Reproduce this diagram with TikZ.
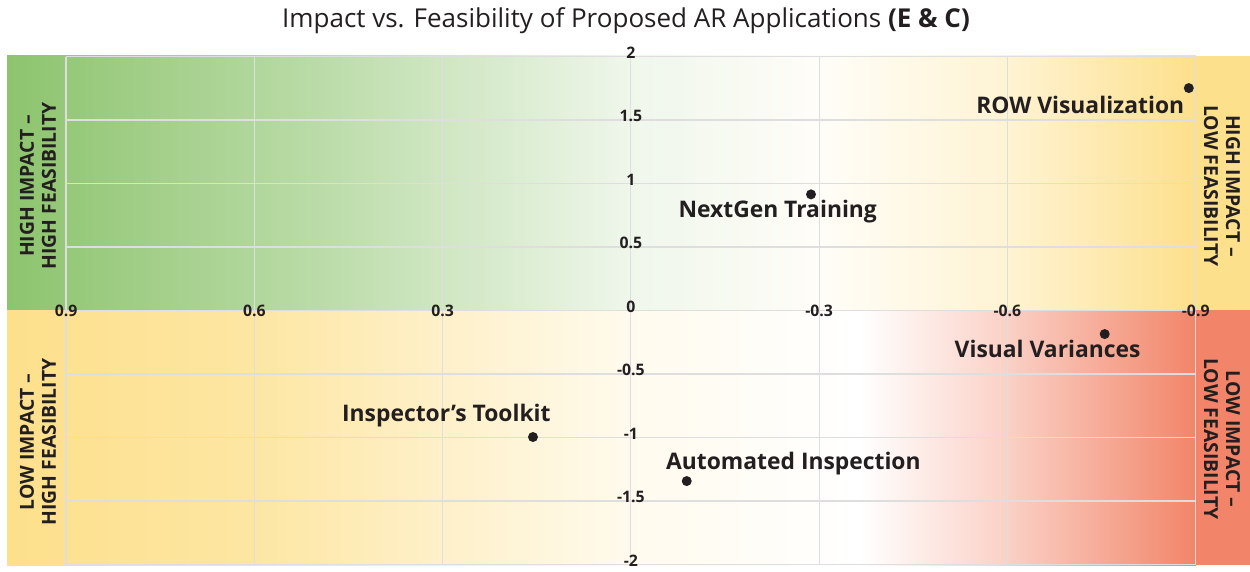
\documentclass[tikz,border=0pt]{standalone}
\usepackage{fontspec}
\setmainfont{Open Sans}
\usepackage{tikz}
\usetikzlibrary{positioning}
\definecolor{quadgreen}{RGB}{141,196,110}
\definecolor{quadyellow}{RGB}{253,224,140}
\definecolor{quadred}{RGB}{242,133,105}
\definecolor{textgray}{RGB}{35,31,32}
\definecolor{gridgray}{RGB}{222,222,222}
\tikzstyle{title_text} = [
    font=\fontsize{14.8}{18}\selectfont,
    text=textgray,
    inner sep=0pt
]
\tikzstyle{tick_label} = [
    font=\fontsize{9}{10}\selectfont\bfseries,
    text=textgray,
    inner sep=0pt
]
\tikzstyle{quad_label} = [
    font=\fontsize{11}{12.5}\selectfont\bfseries,
    text=textgray,
    align=center,
    inner sep=0pt
]
\tikzstyle{app_label} = [
    font=\fontsize{13}{15}\selectfont\bfseries,
    text=textgray,
    inner sep=0pt,
    anchor=base
]
\tikzstyle{dot} = [
    circle,
    fill=textgray,
    inner sep=0pt,
    minimum size=0.2cm
]
\tikzstyle{grid_line} = [
    draw=gridgray,
    line width=0.7pt
]

\begin{document}
\begin{tikzpicture}[x=0.02cm, y=0.02cm]
\useasboundingbox (0,0) rectangle (1250,571);

% top half, green to yellow
\shade[left color=quadgreen, right color=quadgreen!60!white] (7,260.5) rectangle (320,515);
\shade[left color=quadgreen!60!white, right color=quadgreen!14!white] (319.5,260.5) rectangle (631,515);
\shade[left color=quadgreen!14!white, right color=quadyellow!6!white] (630.5,260.5) rectangle (820,515);
\shade[left color=quadyellow!6!white, right color=quadyellow!38!white] (819.5,260.5) rectangle (1007,515);
\shade[left color=quadyellow!38!white, right color=quadyellow] (1006.5,260.5) rectangle (1196,515);
\fill[quadyellow] (1195.5,260.5) rectangle (1250,515);

% bottom half, yellow to red
\shade[left color=quadyellow, right color=quadyellow!80!white] (7,6) rectangle (254,260.5);
\shade[left color=quadyellow!80!white, right color=quadyellow!15!white] (253.5,6) rectangle (631,260.5);
\shade[left color=quadyellow!15!white, right color=white] (630.5,6) rectangle (860,260.5);
\shade[left color=white, right color=quadred!38!white] (859.5,6) rectangle (1007,260.5);
\shade[left color=quadred!38!white, right color=quadred] (1006.5,6) rectangle (1196,260.5);
\fill[quadred] (1195.5,6) rectangle (1250,260.5);

\node[title_text, anchor=base] (title) at (626,543.7)
    {Impact vs. Feasibility of Proposed AR Applications \textbf{(E \& C)}};

\node[quad_label, rotate=90] (hi_hf) at (38,385) {HIGH IMPACT –\\HIGH FEASIBILITY};
\node[quad_label, rotate=-90] (hi_lf) at (1222,385) {HIGH IMPACT –\\LOW FEASIBILITY};
\node[quad_label, rotate=90] (lo_hf) at (38,129) {LOW IMPACT –\\HIGH FEASIBILITY};
\node[quad_label, rotate=-90] (lo_lf) at (1222,132) {LOW IMPACT –\\LOW FEASIBILITY};

\begin{scope}[shift={(12.62cm,5.21cm)}, x=-12.554cm, y=2.54cm]
    % grid
    \foreach \v in {0.9,0.6,0.3,0,-0.3,-0.6,-0.9}
        \draw[grid_line] (\v,-2) -- (\v,2);
    \foreach \v in {2,1.5,1,0.5,0,-0.5,-1,-1.5,-2}
        \draw[grid_line] (0.9,\v) -- (-0.9,\v);

    % tick labels
    \foreach \v [count=\i] in {0.9,0.6,0.3,-0.3,-0.6,-0.9}
        \node[tick_label] (xtick\i) at (\v,0) {\v};
    \foreach \v [count=\i] in {2,1.5,1,0.5,0,-0.5,-1,-1.5,-2}
        \node[tick_label, yshift=0.08cm] (ytick\i) at (0,\v) {\v};

    % applications
    \node[dot] (row_dot) at (-0.889,1.752) {};
    \node[app_label] (row_label) at (-0.716,1.555) {ROW Visualization};
    \node[dot] (nextgen_dot) at (-0.287,0.915) {};
    \node[app_label] (nextgen_label) at (-0.234,0.732) {NextGen Training};
    \node[dot] (visual_dot) at (-0.755,-0.185) {};
    \node[app_label] (visual_label) at (-0.664,-0.366) {Visual Variances};
    \node[dot] (toolkit_dot) at (0.156,-0.996) {};
    \node[app_label] (toolkit_label) at (0.294,-0.876) {Inspector’s Toolkit};
    \node[dot] (auto_dot) at (-0.089,-1.343) {};
    \node[app_label] (auto_label) at (-0.259,-1.25) {Automated Inspection};
\end{scope}
\end{tikzpicture}
\end{document}
